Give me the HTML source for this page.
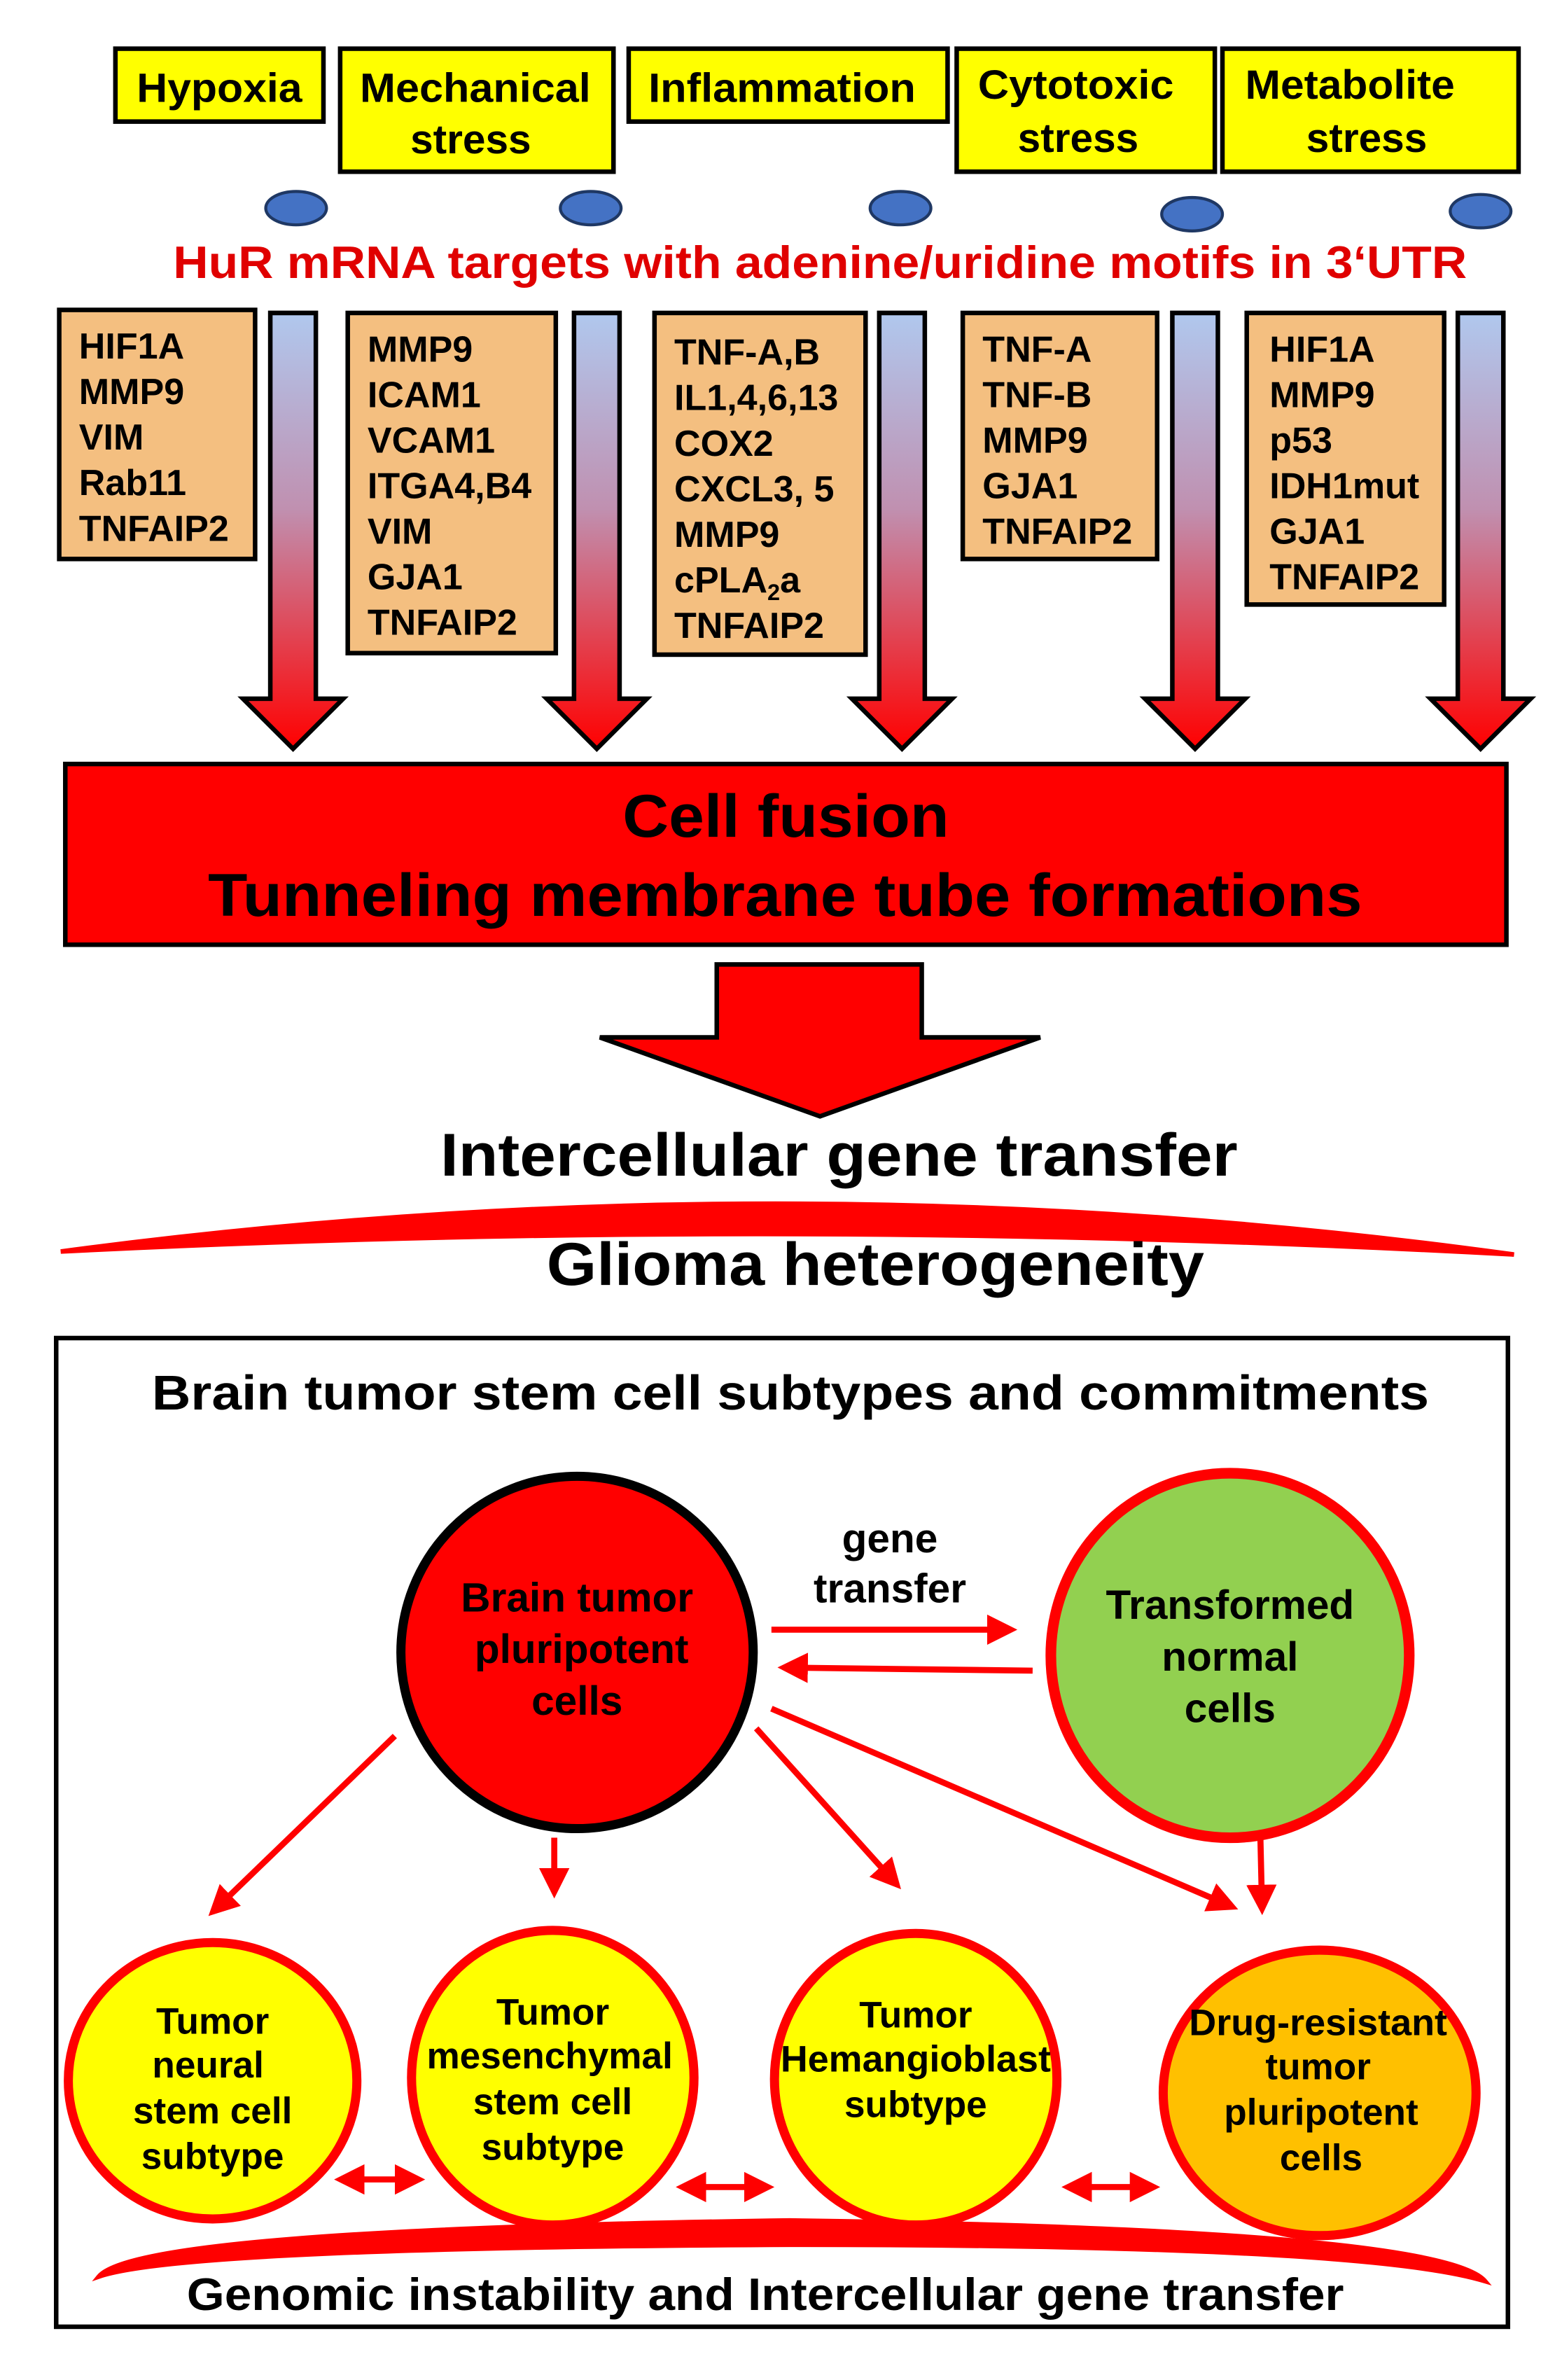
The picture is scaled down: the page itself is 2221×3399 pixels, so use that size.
<!DOCTYPE html>
<html><head><style>html,body{margin:0;padding:0;background:#fff}svg{display:block}</style></head>
<body>
<svg width="2221" height="3399" viewBox="0 0 1024 1567" xmlns="http://www.w3.org/2000/svg" font-family="Liberation Sans, sans-serif" font-weight="bold">
<defs>
<linearGradient id="g" x1="0" y1="0" x2="0" y2="1"><stop offset="0" stop-color="#b0c8ee"/><stop offset="0.45" stop-color="#c090b0"/><stop offset="1" stop-color="#ff0000"/></linearGradient>
<marker id="ah" markerWidth="5" markerHeight="5" refX="3" refY="2.5" orient="auto-start-reverse" markerUnits="strokeWidth"><path d="M0,0 L5,2.5 L0,5 z" fill="#f00"/></marker>
</defs>
<g stroke="#000" stroke-width="3" fill="#ffff00">
<rect x="76" y="32" width="137" height="48"/>
<rect x="224" y="32" width="180" height="81"/>
<rect x="414" y="32" width="210" height="48"/>
<rect x="630" y="32" width="170" height="81"/>
<rect x="805" y="32" width="195" height="81"/>
</g>
<g font-size="27" fill="#000">
<text x="90" y="67" textLength="109" lengthAdjust="spacingAndGlyphs">Hypoxia</text>
<text x="237" y="67" textLength="152" lengthAdjust="spacingAndGlyphs">Mechanical</text><text x="310" y="101" text-anchor="middle">stress</text>
<text x="427" y="67" textLength="176" lengthAdjust="spacingAndGlyphs">Inflammation</text>
<text x="644" y="65" textLength="129" lengthAdjust="spacingAndGlyphs">Cytotoxic</text><text x="710" y="100" text-anchor="middle">stress</text>
<text x="820" y="65" textLength="138" lengthAdjust="spacingAndGlyphs">Metabolite</text><text x="900" y="100" text-anchor="middle">stress</text>
</g>
<g fill="#4472c4" stroke="#1f3864" stroke-width="2">
<ellipse cx="195" cy="137" rx="20" ry="11"/><ellipse cx="389" cy="137" rx="20" ry="11"/><ellipse cx="593" cy="137" rx="20" ry="11"/><ellipse cx="785" cy="141" rx="20" ry="11"/><ellipse cx="975" cy="139" rx="20" ry="11"/>
</g>
<text x="540" y="183" font-size="30" fill="#e00000" text-anchor="middle" textLength="852" lengthAdjust="spacingAndGlyphs">HuR mRNA targets with adenine/uridine motifs in 3‘UTR</text>
<g stroke="#000" stroke-width="3" fill="url(#g)">
<path d="M178,206 H208 V460 H226 L193,493 L160,460 H178 Z"/>
<path d="M378,206 H408 V460 H426 L393,493 L360,460 H378 Z"/>
<path d="M579,206 H609 V460 H627 L594,493 L561,460 H579 Z"/>
<path d="M772,206 H802 V460 H820 L787,493 L754,460 H772 Z"/>
<path d="M960,206 H990 V460 H1008 L975,493 L942,460 H960 Z"/>
</g>
<g stroke="#000" stroke-width="3" fill="#f4bf80">
<rect x="39" y="204" width="129" height="164"/>
<rect x="229" y="206" width="137" height="224"/>
<rect x="431" y="206" width="139" height="225"/>
<rect x="634" y="206" width="128" height="162"/>
<rect x="821" y="206" width="130" height="192"/>
</g>
<g font-size="24" fill="#000">
<text x="52" y="236">HIF1A</text><text x="52" y="266">MMP9</text><text x="52" y="296">VIM</text><text x="52" y="326">Rab11</text><text x="52" y="356">TNFAIP2</text>
<text x="242" y="238">MMP9</text><text x="242" y="268">ICAM1</text><text x="242" y="298">VCAM1</text><text x="242" y="328">ITGA4,B4</text><text x="242" y="358">VIM</text><text x="242" y="388">GJA1</text><text x="242" y="418">TNFAIP2</text>
<text x="444" y="240">TNF-A,B</text><text x="444" y="270">IL1,4,6,13</text><text x="444" y="300">COX2</text><text x="444" y="330">CXCL3, 5</text><text x="444" y="360">MMP9</text><text x="444" y="390">cPLA<tspan font-size="15" dy="5">2</tspan><tspan dy="-5">a</tspan></text><text x="444" y="420">TNFAIP2</text>
<text x="647" y="238">TNF-A</text><text x="647" y="268">TNF-B</text><text x="647" y="298">MMP9</text><text x="647" y="328">GJA1</text><text x="647" y="358">TNFAIP2</text>
<text x="836" y="238">HIF1A</text><text x="836" y="268">MMP9</text><text x="836" y="298">p53</text><text x="836" y="328">IDH1mut</text><text x="836" y="358">GJA1</text><text x="836" y="388">TNFAIP2</text>
</g>
<rect x="43" y="503" width="949" height="119" fill="#f00" stroke="#000" stroke-width="3"/>
<text x="410" y="551" font-size="40" textLength="215" lengthAdjust="spacingAndGlyphs">Cell fusion</text>
<text x="137" y="603" font-size="40" textLength="760" lengthAdjust="spacingAndGlyphs">Tunneling membrane tube formations</text>
<path d="M472,635 H607 V683 H685 L540,735 L395,683 H472 Z" fill="#f00" stroke="#000" stroke-width="3"/>
<text x="290" y="774" font-size="40" textLength="525" lengthAdjust="spacingAndGlyphs">Intercellular gene transfer</text>
<path d="M40,824 Q518,760 997,826 Q518,800 40,824 Z" fill="#f00" stroke="#f00" stroke-width="3"/>
<text x="360" y="846" font-size="40" textLength="433" lengthAdjust="spacingAndGlyphs">Glioma heterogeneity</text>
<rect x="37" y="881" width="956" height="651" fill="none" stroke="#000" stroke-width="3"/>
<text x="100" y="928" font-size="32" textLength="841" lengthAdjust="spacingAndGlyphs">Brain tumor stem cell subtypes and commitments</text>
<ellipse cx="380" cy="1088" rx="116" ry="116" fill="#f00" stroke="#000" stroke-width="6"/>
<ellipse cx="810" cy="1090" rx="118" ry="120" fill="#92d050" stroke="#f00" stroke-width="7"/>
<ellipse cx="140" cy="1370" rx="95" ry="91" fill="#ffff00" stroke="#f00" stroke-width="6"/>
<ellipse cx="364" cy="1368" rx="93" ry="97" fill="#ffff00" stroke="#f00" stroke-width="6"/>
<ellipse cx="603" cy="1369" rx="93" ry="96" fill="#ffff00" stroke="#f00" stroke-width="6"/>
<ellipse cx="869" cy="1378" rx="103" ry="94" fill="#ffc000" stroke="#f00" stroke-width="6"/>
<g font-size="27" text-anchor="middle" fill="#000">
<text x="380" y="1061">Brain tumor</text><text x="383" y="1095">pluripotent</text><text x="380" y="1129">cells</text>
<text x="810" y="1066">Transformed</text><text x="810" y="1100">normal</text><text x="810" y="1134">cells</text>
<text x="586" y="1022">gene</text><text x="586" y="1055">transfer</text>
</g>
<g font-size="24.5" text-anchor="middle" fill="#000">
<text x="140" y="1339">Tumor</text><text x="137" y="1368">neural</text><text x="140" y="1398">stem cell</text><text x="140" y="1428">subtype</text>
<text x="364" y="1333">Tumor</text><text x="362" y="1362">mesenchymal</text><text x="364" y="1392">stem cell</text><text x="364" y="1422">subtype</text>
<text x="603" y="1335">Tumor</text><text x="603" y="1364" textLength="178" lengthAdjust="spacingAndGlyphs">Hemangioblast</text><text x="603" y="1394">subtype</text>
<text x="868" y="1340" textLength="170" lengthAdjust="spacingAndGlyphs">Drug-resistant</text><text x="868" y="1369">tumor</text><text x="870" y="1399">pluripotent</text><text x="870" y="1429">cells</text>
</g>
<g stroke="#f00" stroke-width="4" fill="none" marker-end="url(#ah)">
<line x1="508" y1="1073" x2="662" y2="1073"/>
<line x1="680" y1="1100" x2="520" y2="1098"/>
<line x1="260" y1="1143" x2="143" y2="1256"/>
<line x1="365" y1="1210" x2="365" y2="1242"/>
<line x1="498" y1="1138" x2="588" y2="1238"/>
<line x1="508" y1="1125" x2="808" y2="1254"/>
<line x1="830" y1="1210" x2="831" y2="1253"/>
</g>
<g stroke="#f00" stroke-width="4" fill="none" marker-end="url(#ah)" marker-start="url(#ah)">
<line x1="228" y1="1435" x2="272" y2="1435"/>
<line x1="453" y1="1440" x2="502" y2="1440"/>
<line x1="707" y1="1440" x2="756" y2="1440"/>
</g>
<path d="M65,1499 Q90,1468 520,1462 Q950,1468 978,1502 Q900,1478 520,1478 Q120,1480 65,1499 Z" fill="#f00" stroke="#f00" stroke-width="3"/>
<text x="123" y="1521" font-size="30" textLength="762" lengthAdjust="spacingAndGlyphs">Genomic instability and Intercellular gene transfer</text>
</svg>
</body></html>
